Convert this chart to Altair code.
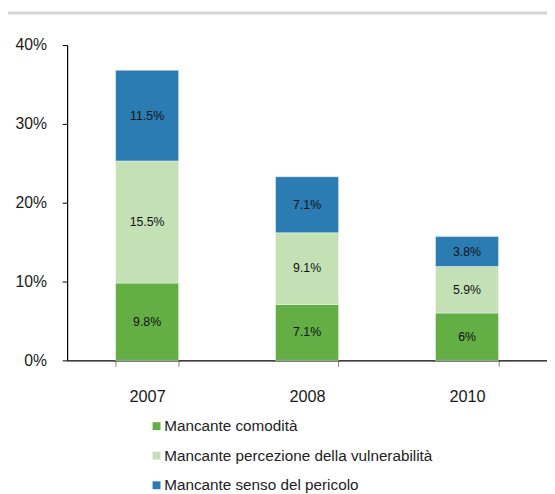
import altair as alt
import pandas as pd

years = ["2007", "2008", "2010"]
series = [
    "Mancante comodità",
    "Mancante percezione della vulnerabilità",
    "Mancante senso del pericolo",
]
comodita = [9.8, 7.1, 6.0]
percezione = [15.5, 9.1, 5.9]
pericolo = [11.5, 7.1, 3.8]
colors = ["#63ae45", "#c3e1b5", "#2a7cb3"]
y_ticks = [0, 10, 20, 30, 40]

FONT = "Liberation Sans, Arial, sans-serif"

rows = []
for i, y in enumerate(years):
    for k, (s, vals) in enumerate(zip(series, [comodita, percezione, pericolo])):
        rows.append({"year": y, "series": s, "value": vals[i], "order": k})
df = pd.DataFrame(rows)

x_enc = alt.X(
    "year:N",
    title=None,
    sort=years,
    scale=alt.Scale(paddingInner=0.606, paddingOuter=0.303),
    axis=alt.Axis(
        tickBand="extent",
        labelAngle=0,
        labelFont=FONT,
        labelFontSize=16.5,
        labelColor="#1a1a1a",
        labelPadding=23,
        tickSize=6,
        tickColor="#808080",
        domainColor="#000000",
        domainWidth=1.2,
    ),
)

base = alt.Chart(df)

bars = base.mark_bar(stroke="white", strokeWidth=0.6, strokeOpacity=0.7).encode(
    x=x_enc,
    y=alt.Y(
        "value:Q",
        stack="zero",
        title=None,
        scale=alt.Scale(domain=[0, 40], nice=False),
        axis=alt.Axis(
            values=y_ticks,
            labelExpr="datum.value + '%'",
            grid=False,
            labelFont=FONT,
            labelFontSize=16,
            labelColor="#1a1a1a",
            labelPadding=16,
            tickSize=5,
            tickColor="#000000",
            domainColor="#000000",
            domainWidth=1.2,
        ),
    ),
    color=alt.Color(
        "series:N",
        sort=series,
        scale=alt.Scale(domain=series, range=colors),
        legend=alt.Legend(
            title=None,
            orient="none",
            legendX=83,
            legendY=379,
            padding=0,
            direction="vertical",
            symbolType="square",
            symbolSize=64,
            symbolStrokeWidth=0,
            labelFont=FONT,
            labelFontSize=15.5,
            labelColor="#222222",
            labelOffset=0,
            labelLimit=0,
            rowPadding=13,
        ),
    ),
    order=alt.Order("order:Q", sort="ascending"),
)

labels = (
    base.transform_stack(
        stack="value", groupby=["year"], as_=["v0", "v1"], sort=[alt.SortField("order", order="ascending")]
    )
    .transform_calculate(mid="(datum.v0 + datum.v1) / 2", label="toString(datum.value) + '%'")
    .mark_text(font=FONT, fontSize=12.5, color="#111111")
    .encode(x=alt.X("year:N", sort=years), y=alt.Y("mid:Q"), text="label:N")
)

band = (
    alt.Chart(pd.DataFrame({"a": [0]}))
    .mark_rect(color="#d6d6d6")
    .encode(x=alt.value(-60), x2=alt.value(487), y=alt.value(-34), y2=alt.value(-31))
)

chart = (
    alt.layer(band, bars, labels)
    .properties(
        width=487,
        height=320,
        padding={"left": 60, "top": 34, "right": 0, "bottom": 132},
        autosize=alt.AutoSizeParams(type="none"),
        background="white",
    )
    .configure_view(stroke=None)
)

chart.save("out.html", embed_options={"renderer": "svg", "actions": False})
